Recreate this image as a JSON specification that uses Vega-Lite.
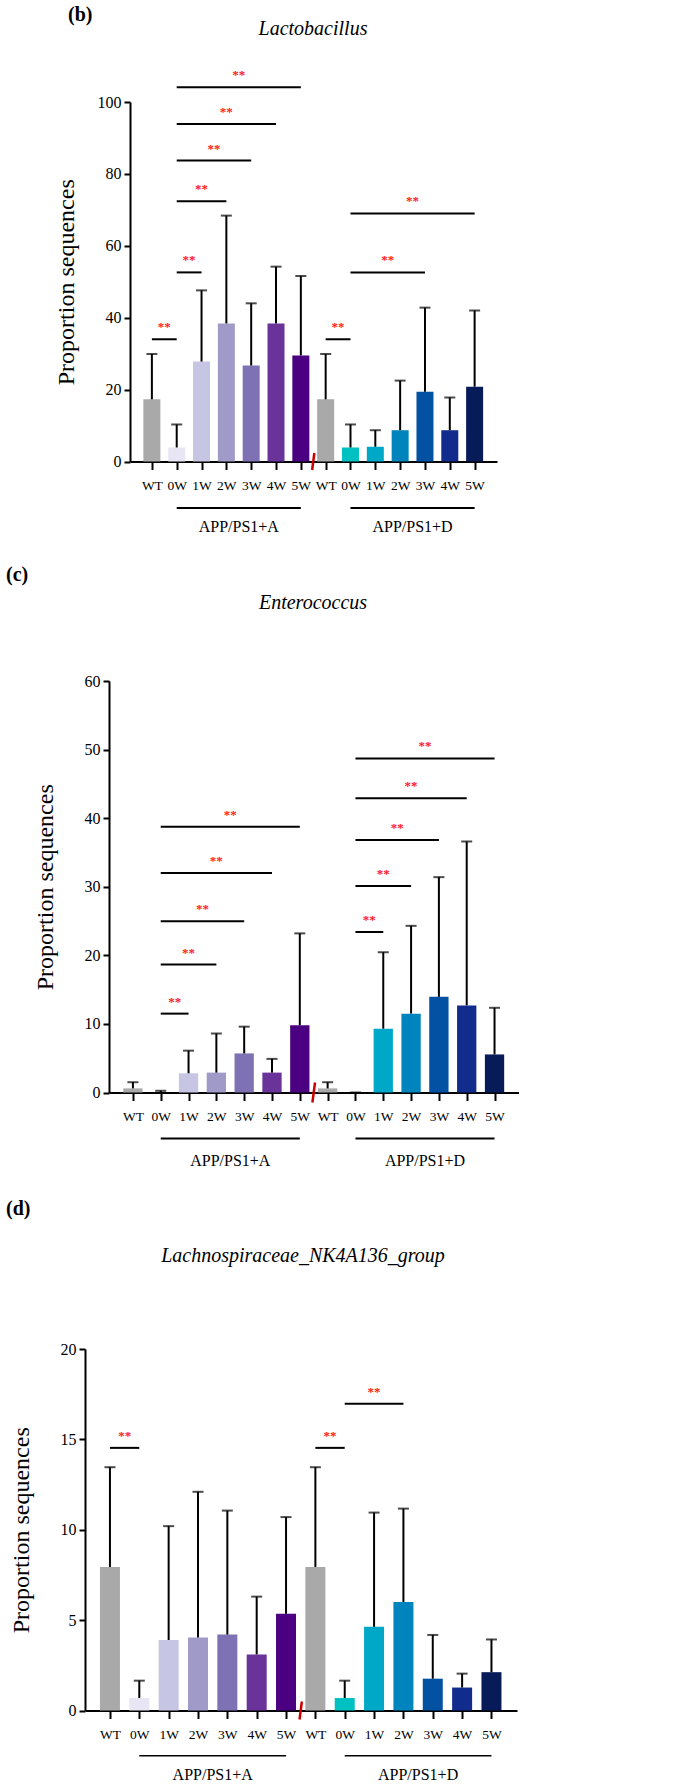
{
  "$schema": "https://vega.github.io/schema/vega-lite/v6.json",
  "padding": {"left": 6, "top": 5, "right": 0, "bottom": 0},
  "config": {
    "view": {"stroke": null},
    "font": "Liberation Serif",
    "axis": {"domainColor": "black", "domainWidth": 2, "tickColor": "black", "tickWidth": 2, "labelFont": "Liberation Serif", "labelColor": "black", "titleFont": "Liberation Serif", "titleFontWeight": "normal", "titleColor": "black", "grid": false, "labelFlush": false, "labelOverlap": false},
    "axisX": {"tickSize": 8, "labelFontSize": 13.5, "labelPadding": 9},
    "axisY": {"tickSize": 6, "labelFontSize": 16, "labelPadding": 3, "titleFontSize": 24}
  },
  "datasets": {
    "bars": [
      {"panel": "b", "i": 0, "group": "WT", "cond": "WT", "mean": 17.3, "upper": 29.9},
      {"panel": "b", "i": 1, "group": "APP/PS1+A", "cond": "APP/PS1+A 0W", "mean": 3.9, "upper": 10.3},
      {"panel": "b", "i": 2, "group": "APP/PS1+A", "cond": "APP/PS1+A 1W", "mean": 27.8, "upper": 47.6},
      {"panel": "b", "i": 3, "group": "APP/PS1+A", "cond": "APP/PS1+A 2W", "mean": 38.4, "upper": 68.4},
      {"panel": "b", "i": 4, "group": "APP/PS1+A", "cond": "APP/PS1+A 3W", "mean": 26.7, "upper": 44.0},
      {"panel": "b", "i": 5, "group": "APP/PS1+A", "cond": "APP/PS1+A 4W", "mean": 38.4, "upper": 54.2},
      {"panel": "b", "i": 6, "group": "APP/PS1+A", "cond": "APP/PS1+A 5W", "mean": 29.5, "upper": 51.6},
      {"panel": "b", "i": 7, "group": "WT", "cond": "WT", "mean": 17.3, "upper": 29.9},
      {"panel": "b", "i": 8, "group": "APP/PS1+D", "cond": "APP/PS1+D 0W", "mean": 3.9, "upper": 10.3},
      {"panel": "b", "i": 9, "group": "APP/PS1+D", "cond": "APP/PS1+D 1W", "mean": 4.1, "upper": 8.7},
      {"panel": "b", "i": 10, "group": "APP/PS1+D", "cond": "APP/PS1+D 2W", "mean": 8.7, "upper": 22.5},
      {"panel": "b", "i": 11, "group": "APP/PS1+D", "cond": "APP/PS1+D 3W", "mean": 19.4, "upper": 42.8},
      {"panel": "b", "i": 12, "group": "APP/PS1+D", "cond": "APP/PS1+D 4W", "mean": 8.7, "upper": 17.8},
      {"panel": "b", "i": 13, "group": "APP/PS1+D", "cond": "APP/PS1+D 5W", "mean": 20.8, "upper": 42.0},
      {"panel": "c", "i": 0, "group": "WT", "cond": "WT", "mean": 0.6, "upper": 1.5},
      {"panel": "c", "i": 1, "group": "APP/PS1+A", "cond": "APP/PS1+A 0W", "mean": 0, "upper": 0.25},
      {"panel": "c", "i": 2, "group": "APP/PS1+A", "cond": "APP/PS1+A 1W", "mean": 2.8, "upper": 6.1},
      {"panel": "c", "i": 3, "group": "APP/PS1+A", "cond": "APP/PS1+A 2W", "mean": 2.9, "upper": 8.6},
      {"panel": "c", "i": 4, "group": "APP/PS1+A", "cond": "APP/PS1+A 3W", "mean": 5.7, "upper": 9.6},
      {"panel": "c", "i": 5, "group": "APP/PS1+A", "cond": "APP/PS1+A 4W", "mean": 2.9, "upper": 4.9},
      {"panel": "c", "i": 6, "group": "APP/PS1+A", "cond": "APP/PS1+A 5W", "mean": 9.8, "upper": 23.2},
      {"panel": "c", "i": 7, "group": "WT", "cond": "WT", "mean": 0.6, "upper": 1.5},
      {"panel": "c", "i": 8, "group": "APP/PS1+D", "cond": "APP/PS1+D 0W", "mean": 0, "upper": 0},
      {"panel": "c", "i": 9, "group": "APP/PS1+D", "cond": "APP/PS1+D 1W", "mean": 9.3, "upper": 20.45},
      {"panel": "c", "i": 10, "group": "APP/PS1+D", "cond": "APP/PS1+D 2W", "mean": 11.5, "upper": 24.3},
      {"panel": "c", "i": 11, "group": "APP/PS1+D", "cond": "APP/PS1+D 3W", "mean": 13.95, "upper": 31.4},
      {"panel": "c", "i": 12, "group": "APP/PS1+D", "cond": "APP/PS1+D 4W", "mean": 12.7, "upper": 36.6},
      {"panel": "c", "i": 13, "group": "APP/PS1+D", "cond": "APP/PS1+D 5W", "mean": 5.55, "upper": 12.35},
      {"panel": "d", "i": 0, "group": "WT", "cond": "WT", "mean": 7.94, "upper": 13.46},
      {"panel": "d", "i": 1, "group": "APP/PS1+A", "cond": "APP/PS1+A 0W", "mean": 0.69, "upper": 1.65},
      {"panel": "d", "i": 2, "group": "APP/PS1+A", "cond": "APP/PS1+A 1W", "mean": 3.9, "upper": 10.2},
      {"panel": "d", "i": 3, "group": "APP/PS1+A", "cond": "APP/PS1+A 2W", "mean": 4.04, "upper": 12.1},
      {"panel": "d", "i": 4, "group": "APP/PS1+A", "cond": "APP/PS1+A 3W", "mean": 4.2, "upper": 11.06},
      {"panel": "d", "i": 5, "group": "APP/PS1+A", "cond": "APP/PS1+A 4W", "mean": 3.1, "upper": 6.3},
      {"panel": "d", "i": 6, "group": "APP/PS1+A", "cond": "APP/PS1+A 5W", "mean": 5.35, "upper": 10.7},
      {"panel": "d", "i": 7, "group": "WT", "cond": "WT", "mean": 7.94, "upper": 13.46},
      {"panel": "d", "i": 8, "group": "APP/PS1+D", "cond": "APP/PS1+D 0W", "mean": 0.69, "upper": 1.65},
      {"panel": "d", "i": 9, "group": "APP/PS1+D", "cond": "APP/PS1+D 1W", "mean": 4.63, "upper": 10.95},
      {"panel": "d", "i": 10, "group": "APP/PS1+D", "cond": "APP/PS1+D 2W", "mean": 6.0, "upper": 11.17},
      {"panel": "d", "i": 11, "group": "APP/PS1+D", "cond": "APP/PS1+D 3W", "mean": 1.76, "upper": 4.18},
      {"panel": "d", "i": 12, "group": "APP/PS1+D", "cond": "APP/PS1+D 4W", "mean": 1.27, "upper": 2.04},
      {"panel": "d", "i": 13, "group": "APP/PS1+D", "cond": "APP/PS1+D 5W", "mean": 2.12, "upper": 3.93}
    ],
    "sigs": [
      {"panel": "b", "from": 0, "to": 1, "y": 34.0, "sig": "**"},
      {"panel": "b", "from": 1, "to": 2, "y": 52.6, "sig": "**"},
      {"panel": "b", "from": 1, "to": 3, "y": 72.4, "sig": "**"},
      {"panel": "b", "from": 1, "to": 4, "y": 83.7, "sig": "**"},
      {"panel": "b", "from": 1, "to": 5, "y": 93.9, "sig": "**"},
      {"panel": "b", "from": 1, "to": 6, "y": 104.1, "sig": "**"},
      {"panel": "b", "from": 7, "to": 8, "y": 34.0, "sig": "**"},
      {"panel": "b", "from": 8, "to": 11, "y": 52.6, "sig": "**"},
      {"panel": "b", "from": 8, "to": 13, "y": 69.0, "sig": "**"},
      {"panel": "c", "from": 1, "to": 2, "y": 11.5, "sig": "**"},
      {"panel": "c", "from": 1, "to": 3, "y": 18.66, "sig": "**"},
      {"panel": "c", "from": 1, "to": 4, "y": 24.96, "sig": "**"},
      {"panel": "c", "from": 1, "to": 5, "y": 32.0, "sig": "**"},
      {"panel": "c", "from": 1, "to": 6, "y": 38.75, "sig": "**"},
      {"panel": "c", "from": 8, "to": 9, "y": 23.4, "sig": "**"},
      {"panel": "c", "from": 8, "to": 10, "y": 30.1, "sig": "**"},
      {"panel": "c", "from": 8, "to": 11, "y": 36.8, "sig": "**"},
      {"panel": "c", "from": 8, "to": 12, "y": 42.9, "sig": "**"},
      {"panel": "c", "from": 8, "to": 13, "y": 48.7, "sig": "**"},
      {"panel": "d", "from": 0, "to": 1, "y": 14.53, "sig": "**"},
      {"panel": "d", "from": 7, "to": 8, "y": 14.53, "sig": "**"},
      {"panel": "d", "from": 8, "to": 10, "y": 16.97, "sig": "**"}
    ]
  },
  "vconcat": [
    {
      "title": {"text": "(b)", "anchor": "start", "frame": "bounds", "dx": 14, "offset": -6, "fontSize": 20, "fontWeight": "bold", "font": "Liberation Serif", "color": "black"},
      "vconcat": [
        {
          "width": 412, "height": 359.5,
          "title": {"text": "Lactobacillus", "font": "Liberation Serif", "fontStyle": "italic", "fontWeight": "normal", "fontSize": 20, "color": "black", "anchor": "middle", "dx": 22, "offset": 30},
          "layer": [
            {
              "data": {"name": "bars"},
              "transform": [{"filter": "datum.panel === 'b'"}],
              "mark": {"type": "bar", "width": 17, "orient": "vertical"},
              "encoding": {
                "x": {"field": "i", "type": "quantitative", "scale": {"domain": [-0.68, 13.7], "range": [45, 412], "nice": false, "zero": false},
                  "axis": {"values": [0,1,2,3,4,5,6,7,8,9,10,11,12,13], "tickCount": 30, "labelExpr": "['WT','0W','1W','2W','3W','4W','5W','WT','0W','1W','2W','3W','4W','5W'][datum.value]", "title": null, "labelOverlap": false, "labelFlush": false, "labelBound": false}},
                "y": {"field": "mean", "type": "quantitative", "scale": {"domain": [0, 100], "nice": false},
                  "axis": {"values": [0, 20, 40, 60, 80, 100], "tickCount": 30, "format": "d", "title": "Proportion sequences", "titleX": -64, "titleBaseline": "middle", "offset": -45}},
                "color": {"field": "cond", "type": "nominal", "legend": null,
                  "scale": {"domain": ["WT","APP/PS1+A 0W","APP/PS1+A 1W","APP/PS1+A 2W","APP/PS1+A 3W","APP/PS1+A 4W","APP/PS1+A 5W","APP/PS1+D 0W","APP/PS1+D 1W","APP/PS1+D 2W","APP/PS1+D 3W","APP/PS1+D 4W","APP/PS1+D 5W"],
                    "range": ["#a9a9a9","#e8e6f4","#c6c6e4","#a09ac8","#7e72b4","#693399","#4a0080","#00c1c1","#00a8c8","#0084bd","#0351a3","#112c8c","#061b58"]}}
              }
            },
            {
              "data": {"name": "bars"},
              "transform": [{"filter": "datum.panel === 'b'"}],
              "mark": {"type": "rule", "color": "black", "strokeWidth": 2},
              "encoding": {"x": {"field": "i", "type": "quantitative"}, "y": {"field": "mean", "type": "quantitative"}, "y2": {"field": "upper"}}
            },
            {
              "data": {"name": "bars"},
              "transform": [{"filter": "datum.panel === 'b'"}],
              "mark": {"type": "tick", "orient": "horizontal", "color": "black", "thickness": 2, "size": 11},
              "encoding": {"x": {"field": "i", "type": "quantitative"}, "y": {"field": "upper", "type": "quantitative"}}
            },
            {
              "data": {"name": "sigs"},
              "transform": [{"filter": "datum.panel === 'b'"}],
              "mark": {"type": "rule", "color": "black", "strokeWidth": 2},
              "encoding": {"x": {"field": "from", "type": "quantitative"}, "x2": {"field": "to"}, "y": {"field": "y", "type": "quantitative"}}
            },
            {
              "data": {"name": "sigs"},
              "transform": [{"filter": "datum.panel === 'b'"}, {"fold": ["from", "to"], "as": ["end", "pos"]}, {"aggregate": [{"op": "mean", "field": "pos", "as": "mid"}], "groupby": ["panel", "from", "to", "y", "sig"]}],
              "mark": {"type": "text", "color": "#ff1a1a", "fontSize": 13, "fontWeight": "bold", "baseline": "alphabetic", "dy": -8},
              "encoding": {"x": {"field": "mid", "type": "quantitative"}, "y": {"field": "y", "type": "quantitative"}, "text": {"field": "sig"}}
            },
            {
              "data": {"name": "bars"},
              "transform": [{"filter": "datum.panel === 'b' && datum.group !== 'WT'"}, {"aggregate": [{"op": "min", "field": "i", "as": "lo"}, {"op": "max", "field": "i", "as": "hi"}], "groupby": ["group"]}],
              "mark": {"type": "rule", "color": "black", "strokeWidth": 2},
              "encoding": {"x": {"field": "lo", "type": "quantitative"}, "x2": {"field": "hi"}, "y": {"datum": -12.9}}
            },
            {
              "data": {"name": "bars"},
              "transform": [{"filter": "datum.panel === 'b' && datum.group !== 'WT'"}, {"aggregate": [{"op": "mean", "field": "i", "as": "mid"}], "groupby": ["group"]}],
              "mark": {"type": "text", "color": "black", "fontSize": 16, "baseline": "middle"},
              "encoding": {"x": {"field": "mid", "type": "quantitative"}, "y": {"datum": -18.2}, "text": {"field": "group"}}
            },
            {
              "data": {"values": [{"mark": "axis break"}]},
              "mark": {"type": "point", "shape": "M0.13,-1L-0.13,1", "size": 289, "filled": false, "color": "#cc0000", "strokeWidth": 2.5, "opacity": 1},
              "encoding": {"x": {"datum": 6.5}, "y": {"datum": 0}}
            }
          ]
        }
      ]
    },
    {
      "title": {"text": "(c)", "anchor": "start", "frame": "bounds", "dx": -27, "offset": 8, "fontSize": 20, "fontWeight": "bold", "font": "Liberation Serif", "color": "black"},
      "vconcat": [
        {
          "width": 434, "height": 411.5,
          "title": {"text": "Enterococcus", "font": "Liberation Serif", "fontStyle": "italic", "fontWeight": "normal", "fontSize": 20, "color": "black", "anchor": "middle", "dx": 11, "offset": 60},
          "layer": [
            {
              "data": {"name": "bars"},
              "transform": [{"filter": "datum.panel === 'c'"}],
              "mark": {"type": "bar", "width": 19.3, "orient": "vertical"},
              "encoding": {
                "x": {"field": "i", "type": "quantitative", "scale": {"domain": [-0.68, 13.7], "range": [24, 434], "nice": false, "zero": false},
                  "axis": {"values": [0,1,2,3,4,5,6,7,8,9,10,11,12,13], "tickCount": 30, "labelExpr": "['WT','0W','1W','2W','3W','4W','5W','WT','0W','1W','2W','3W','4W','5W'][datum.value]", "title": null, "labelOverlap": false, "labelFlush": false, "labelBound": false}},
                "y": {"field": "mean", "type": "quantitative", "scale": {"domain": [0, 60], "nice": false},
                  "axis": {"values": [0, 10, 20, 30, 40, 50, 60], "tickCount": 30, "format": "d", "title": "Proportion sequences", "titleX": -64, "titleBaseline": "middle", "offset": -24}},
                "color": {"field": "cond", "type": "nominal", "legend": null,
                  "scale": {"domain": ["WT","APP/PS1+A 0W","APP/PS1+A 1W","APP/PS1+A 2W","APP/PS1+A 3W","APP/PS1+A 4W","APP/PS1+A 5W","APP/PS1+D 0W","APP/PS1+D 1W","APP/PS1+D 2W","APP/PS1+D 3W","APP/PS1+D 4W","APP/PS1+D 5W"],
                    "range": ["#a9a9a9","#e8e6f4","#c6c6e4","#a09ac8","#7e72b4","#693399","#4a0080","#00c1c1","#00a8c8","#0084bd","#0351a3","#112c8c","#061b58"]}}
              }
            },
            {
              "data": {"name": "bars"},
              "transform": [{"filter": "datum.panel === 'c'"}],
              "mark": {"type": "rule", "color": "black", "strokeWidth": 2},
              "encoding": {"x": {"field": "i", "type": "quantitative"}, "y": {"field": "mean", "type": "quantitative"}, "y2": {"field": "upper"}}
            },
            {
              "data": {"name": "bars"},
              "transform": [{"filter": "datum.panel === 'c'"}],
              "mark": {"type": "tick", "orient": "horizontal", "color": "black", "thickness": 2, "size": 11},
              "encoding": {"x": {"field": "i", "type": "quantitative"}, "y": {"field": "upper", "type": "quantitative"}}
            },
            {
              "data": {"name": "sigs"},
              "transform": [{"filter": "datum.panel === 'c'"}],
              "mark": {"type": "rule", "color": "black", "strokeWidth": 2},
              "encoding": {"x": {"field": "from", "type": "quantitative"}, "x2": {"field": "to"}, "y": {"field": "y", "type": "quantitative"}}
            },
            {
              "data": {"name": "sigs"},
              "transform": [{"filter": "datum.panel === 'c'"}, {"fold": ["from", "to"], "as": ["end", "pos"]}, {"aggregate": [{"op": "mean", "field": "pos", "as": "mid"}], "groupby": ["panel", "from", "to", "y", "sig"]}],
              "mark": {"type": "text", "color": "#ff1a1a", "fontSize": 13, "fontWeight": "bold", "baseline": "alphabetic", "dy": -8},
              "encoding": {"x": {"field": "mid", "type": "quantitative"}, "y": {"field": "y", "type": "quantitative"}, "text": {"field": "sig"}}
            },
            {
              "data": {"name": "bars"},
              "transform": [{"filter": "datum.panel === 'c' && datum.group !== 'WT'"}, {"aggregate": [{"op": "min", "field": "i", "as": "lo"}, {"op": "max", "field": "i", "as": "hi"}], "groupby": ["group"]}],
              "mark": {"type": "rule", "color": "black", "strokeWidth": 2},
              "encoding": {"x": {"field": "lo", "type": "quantitative"}, "x2": {"field": "hi"}, "y": {"datum": -6.72}}
            },
            {
              "data": {"name": "bars"},
              "transform": [{"filter": "datum.panel === 'c' && datum.group !== 'WT'"}, {"aggregate": [{"op": "mean", "field": "i", "as": "mid"}], "groupby": ["group"]}],
              "mark": {"type": "text", "color": "black", "fontSize": 16, "baseline": "middle"},
              "encoding": {"x": {"field": "mid", "type": "quantitative"}, "y": {"datum": -9.97}, "text": {"field": "group"}}
            },
            {
              "data": {"values": [{"mark": "axis break"}]},
              "mark": {"type": "point", "shape": "M0.13,-1L-0.13,1", "size": 400, "filled": false, "color": "#cc0000", "strokeWidth": 2.5, "opacity": 1},
              "encoding": {"x": {"datum": 6.5}, "y": {"datum": 0}}
            }
          ]
        }
      ]
    },
    {
      "title": {"text": "(d)", "anchor": "start", "frame": "bounds", "dx": -3, "offset": 27, "fontSize": 20, "fontWeight": "bold", "font": "Liberation Serif", "color": "black"},
      "vconcat": [
        {
          "width": 432, "height": 361.5,
          "title": {"text": "Lachnospiraceae_NK4A136_group", "font": "Liberation Serif", "fontStyle": "italic", "fontWeight": "normal", "fontSize": 20, "color": "black", "anchor": "middle", "dx": 2, "offset": 75},
          "layer": [
            {
              "data": {"name": "bars"},
              "transform": [{"filter": "datum.panel === 'd'"}],
              "mark": {"type": "bar", "width": 20, "orient": "vertical"},
              "encoding": {
                "x": {"field": "i", "type": "quantitative", "scale": {"domain": [-0.68, 13.7], "range": [0, 432], "nice": false, "zero": false},
                  "axis": {"values": [0,1,2,3,4,5,6,7,8,9,10,11,12,13], "tickCount": 30, "labelExpr": "['WT','0W','1W','2W','3W','4W','5W','WT','0W','1W','2W','3W','4W','5W'][datum.value]", "title": null, "labelOverlap": false, "labelFlush": false, "labelBound": false}},
                "y": {"field": "mean", "type": "quantitative", "scale": {"domain": [0, 20], "nice": false},
                  "axis": {"values": [0, 5, 10, 15, 20], "tickCount": 30, "format": "d", "title": "Proportion sequences", "titleX": -64, "titleBaseline": "middle"}},
                "color": {"field": "cond", "type": "nominal", "legend": null,
                  "scale": {"domain": ["WT","APP/PS1+A 0W","APP/PS1+A 1W","APP/PS1+A 2W","APP/PS1+A 3W","APP/PS1+A 4W","APP/PS1+A 5W","APP/PS1+D 0W","APP/PS1+D 1W","APP/PS1+D 2W","APP/PS1+D 3W","APP/PS1+D 4W","APP/PS1+D 5W"],
                    "range": ["#a9a9a9","#e8e6f4","#c6c6e4","#a09ac8","#7e72b4","#693399","#4a0080","#00c1c1","#00a8c8","#0084bd","#0351a3","#112c8c","#061b58"]}}
              }
            },
            {
              "data": {"name": "bars"},
              "transform": [{"filter": "datum.panel === 'd'"}],
              "mark": {"type": "rule", "color": "black", "strokeWidth": 2},
              "encoding": {"x": {"field": "i", "type": "quantitative"}, "y": {"field": "mean", "type": "quantitative"}, "y2": {"field": "upper"}}
            },
            {
              "data": {"name": "bars"},
              "transform": [{"filter": "datum.panel === 'd'"}],
              "mark": {"type": "tick", "orient": "horizontal", "color": "black", "thickness": 2, "size": 11},
              "encoding": {"x": {"field": "i", "type": "quantitative"}, "y": {"field": "upper", "type": "quantitative"}}
            },
            {
              "data": {"name": "sigs"},
              "transform": [{"filter": "datum.panel === 'd'"}],
              "mark": {"type": "rule", "color": "black", "strokeWidth": 2},
              "encoding": {"x": {"field": "from", "type": "quantitative"}, "x2": {"field": "to"}, "y": {"field": "y", "type": "quantitative"}}
            },
            {
              "data": {"name": "sigs"},
              "transform": [{"filter": "datum.panel === 'd'"}, {"fold": ["from", "to"], "as": ["end", "pos"]}, {"aggregate": [{"op": "mean", "field": "pos", "as": "mid"}], "groupby": ["panel", "from", "to", "y", "sig"]}],
              "mark": {"type": "text", "color": "#ff1a1a", "fontSize": 13, "fontWeight": "bold", "baseline": "alphabetic", "dy": -8},
              "encoding": {"x": {"field": "mid", "type": "quantitative"}, "y": {"field": "y", "type": "quantitative"}, "text": {"field": "sig"}}
            },
            {
              "data": {"name": "bars"},
              "transform": [{"filter": "datum.panel === 'd' && datum.group !== 'WT'"}, {"aggregate": [{"op": "min", "field": "i", "as": "lo"}, {"op": "max", "field": "i", "as": "hi"}], "groupby": ["group"]}],
              "mark": {"type": "rule", "color": "black", "strokeWidth": 1.5},
              "encoding": {"x": {"field": "lo", "type": "quantitative"}, "x2": {"field": "hi"}, "y": {"datum": -2.5}}
            },
            {
              "data": {"name": "bars"},
              "transform": [{"filter": "datum.panel === 'd' && datum.group !== 'WT'"}, {"aggregate": [{"op": "mean", "field": "i", "as": "mid"}], "groupby": ["group"]}],
              "mark": {"type": "text", "color": "black", "fontSize": 16, "baseline": "middle"},
              "encoding": {"x": {"field": "mid", "type": "quantitative"}, "y": {"datum": -3.58}, "text": {"field": "group"}}
            },
            {
              "data": {"values": [{"mark": "axis break"}]},
              "mark": {"type": "point", "shape": "M0.13,-1L-0.13,1", "size": 324, "filled": false, "color": "#cc0000", "strokeWidth": 2.5, "opacity": 1},
              "encoding": {"x": {"datum": 6.5}, "y": {"datum": 0}}
            }
          ]
        }
      ]
    }
  ],
  "spacing": 30
}
